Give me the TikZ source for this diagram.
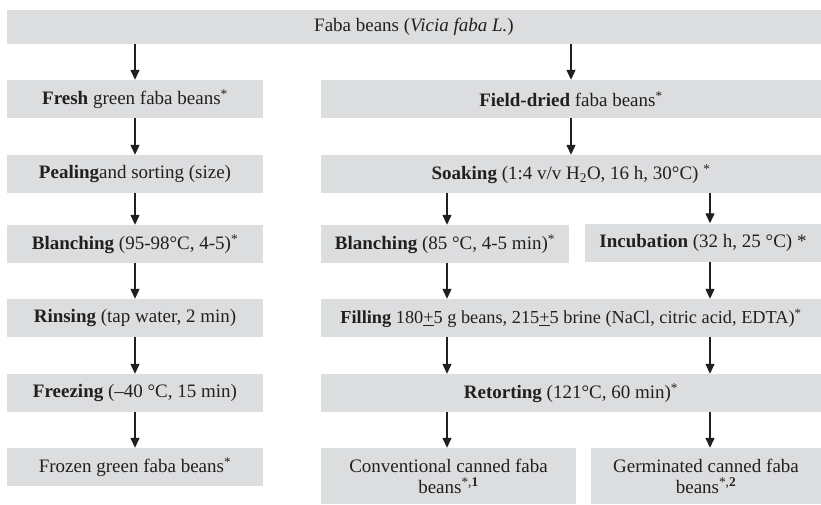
\documentclass[tikz,border=0pt]{standalone}
\usepackage{fontspec}
\setmainfont{Liberation Serif}
\usetikzlibrary{arrows.meta,positioning,calc}
\definecolor{fabaGray}{RGB}{220,221,223}
\definecolor{fabaInk} {RGB}{35,31,32}

\begin{document}
\begin{tikzpicture}[x=1pt,y=-1pt,
    box/.style={fill=fabaGray,inner sep=0pt,minimum height=38pt,align=center,
                font=\fontsize{19}{21}\selectfont,text=fabaInk},
    arr/.style={-{Triangle[length=10pt,width=9pt]},line width=1.3pt,fabaInk}]
  \useasboundingbox (0,0) rectangle (821,504);
  % Material de partida
  \node[box,minimum width=814pt,minimum height=34pt] (faba) at (414,27)
    {Faba beans (\textit{Vicia faba L.})};

  % Coluna esquerda: congelados
  \node[box,minimum width=256pt] (fresh)   at (135,99)
    {\textbf{Fresh} green faba beans\textsuperscript{*}};
  \node[box,minimum width=256pt] (peal)    at (135,174)
    {\textbf{Pealing}and sorting (size)};
  \node[box,minimum width=256pt] (blanchA) at (135,244)
    {\textbf{Blanching} (95-98°C, 4-5)\textsuperscript{*}};
  \node[box,minimum width=256pt] (rinse)   at (135,318)
    {\textbf{Rinsing} (tap water, 2 min)};
  \node[box,minimum width=256pt] (freeze)  at (135,393)
    {\textbf{Freezing} (–40 °C, 15 min)};
  \node[box,minimum width=256pt] (frozen)  at (135,467)
    {Frozen green faba beans\textsuperscript{*}};

  % Coluna direita: enlatados
  \node[box,minimum width=500pt] (dried)   at (571,99)
    {\textbf{Field-dried} faba beans\textsuperscript{*}};
  \node[box,minimum width=500pt] (soak)    at (571,174)
    {\textbf{Soaking} (1:4 v/v H\textsubscript{2}O, 16 h, 30°C) \textsuperscript{*}};
  \node[box,minimum width=248pt] (blanchB) at (445,244)
    {\textbf{Blanching} (85 °C, 4-5 min)\textsuperscript{*}};
  \node[box,minimum width=236pt] (incub)   at (703,242.5)
    {\textbf{Incubation} (32 h, 25 °C) *};
  \node[box,minimum width=500pt,font=\fontsize{18.3}{21}\selectfont] (fill) at (571,318)
    {\textbf{Filling} 180\underline{+}5 g beans, 215\underline{+}5 brine (NaCl, citric acid, EDTA)\textsuperscript{*}};
  \node[box,minimum width=500pt] (retort)  at (571,393)
    {\textbf{Retorting} (121°C, 60 min)\textsuperscript{*}};
  \node[box,minimum width=255pt,minimum height=56pt] (conv) at (448.5,476)
    {Conventional canned faba\\beans\textsuperscript{*,\textbf{1}}};
  \node[box,minimum width=230pt,minimum height=56pt] (germ) at (706,476)
    {Germinated canned faba\\beans\textsuperscript{*,\textbf{2}}};

  % Setas
  \coordinate (colA) at (447,0);
  \coordinate (colB) at (710,0);
  \draw[arr] (faba.south -| fresh) -- (fresh);
  \draw[arr] (faba.south -| dried) -- (dried);
  \foreach \a/\b in {fresh/peal,peal/blanchA,blanchA/rinse,rinse/freeze,freeze/frozen,dried/soak}
    \draw[arr] (\a) -- (\b);
  \foreach \a/\b/\c in {soak/blanchB/colA,soak/incub/colB,blanchB/fill/colA,incub/fill/colB,
                        fill/retort/colA,fill/retort/colB,retort/conv/colA,retort/germ/colB}
    \draw[arr] (\a.south -| \c) -- (\b.north -| \c);
\end{tikzpicture}
\end{document}
